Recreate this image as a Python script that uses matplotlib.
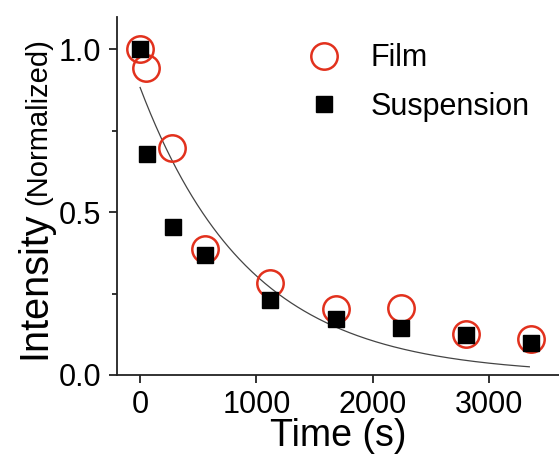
import matplotlib.pyplot as plt
import numpy as np

plt.rcParams['font.family'] = ['Liberation Sans', 'DejaVu Sans']

# measured times (s)
time_s = [0, 56, 280, 560, 1120, 1680, 2240, 2800, 3360]
time_f = [0, 50, 275, 560, 1120, 1680, 2240, 2800, 3360]

# normalized intensities
film = [1.0, 0.942, 0.696, 0.386, 0.282, 0.202, 0.205, 0.126, 0.110]
suspension = [1.0, 0.678, 0.454, 0.368, 0.230, 0.172, 0.144, 0.122, 0.098]

# single exponential fit, I = A * exp(-t / tau)
fit_amp = 0.883
fit_tau = 938.0

fig = plt.figure(figsize=(5.59, 4.55), dpi=100)
ax = fig.add_axes([0.209, 0.176, 0.791, 0.787])

t = np.linspace(0, 3345, 300)
ax.plot(t, fit_amp * np.exp(-t / fit_tau), color="#444444", lw=0.9, zorder=1)

ax.plot(time_f, film, "o", ms=19, mfc="none", mec="#e2311d", mew=1.8,
        label="Film", zorder=2)
ax.plot(time_s, suspension, "s", ms=11, color="black", label="Suspension",
        zorder=3)

ax.set_xlim(-200, 3600)
ax.set_ylim(0, 1.1)
ax.set_xticks([0, 1000, 2000, 3000])
ax.set_yticks([0.0, 0.5, 1.0])
ax.set_yticks([0.25, 0.75], minor=True)
ax.set_yticklabels(["0.0", "0.5", "1.0"])

for s in ["top", "right"]:
    ax.spines[s].set_visible(False)
for s in ["left", "bottom"]:
    ax.spines[s].set_linewidth(1.3)
    ax.spines[s].set_color("#222222")

ax.tick_params(which="major", length=6, width=1.3, labelsize=22,
               color="#222222", pad=5)
ax.tick_params(which="minor", length=3.5, width=1.3, color="#222222")

ax.set_xlabel("Time (s)", fontsize=27, labelpad=-1.5)

# y label: large "Intensity" plus smaller "(Normalized)" on the same baseline
fig.text(0.082, 0.21, "Intensity", fontsize=28.5, rotation=90,
         rotation_mode="anchor", ha="left", va="baseline")
fig.text(0.082, 0.55, "(Normalized)", fontsize=21, rotation=90,
         rotation_mode="anchor", ha="left", va="baseline")

ax.legend(loc="upper left", bbox_to_anchor=(0.39, 0.96), frameon=False,
          fontsize=22, handletextpad=0.75, labelspacing=0.6,
          borderaxespad=0, handlelength=1.5)

fig.savefig("out.png", dpi=100)
